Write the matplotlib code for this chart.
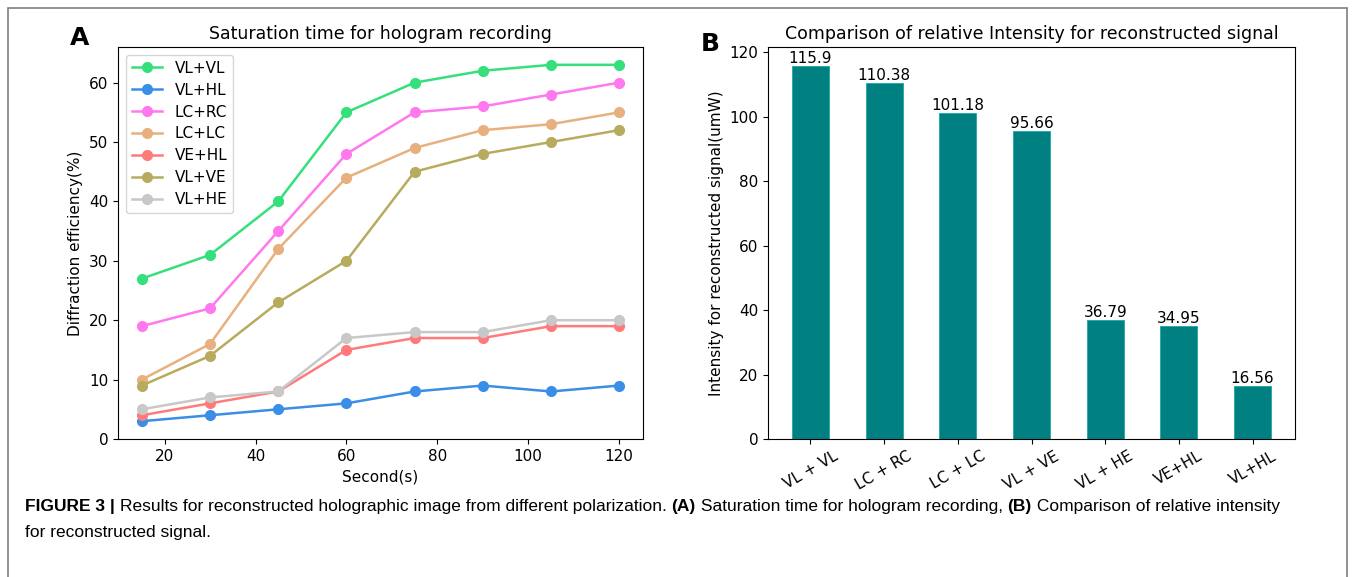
import numpy as np
import matplotlib
matplotlib.use('Agg')
import matplotlib.pyplot as plt
from matplotlib import font_manager
from matplotlib.patches import Rectangle

# Daten Teil A
seconds = [15, 30, 45, 60, 75, 90, 105, 120]
vl_vl = [27, 31, 40, 55, 60, 62, 63, 63]
vl_hl = [3, 4, 5, 6, 8, 9, 8, 9]
lc_rc = [19, 22, 35, 48, 55, 56, 58, 60]
lc_lc = [10, 16, 32, 44, 49, 52, 53, 55]
ve_hl = [4, 6, 8, 15, 17, 17, 19, 19]
vl_ve = [9, 14, 23, 30, 45, 48, 50, 52]
vl_he = [5, 7, 8, 17, 18, 18, 20, 20]
series_names = ["VL+VL", "VL+HL", "LC+RC", "LC+LC", "VE+HL", "VL+VE", "VL+HE"]
series = [vl_vl, vl_hl, lc_rc, lc_lc, ve_hl, vl_ve, vl_he]
colors = ["#35e07c", "#3a8ee8", "#ff78ee", "#e8b07e", "#ff7b7b", "#b7ab5e", "#c8c8c8"]

# Daten Teil B
bar_labels = ["VL + VL", "LC + RC", "LC + LC", "VL + VE", "VL + HE", "VE+HL", "VL+HL"]
bar_values = [115.9, 110.38, 101.18, 95.66, 36.79, 34.95, 16.56]

# Bildunterschrift (Text, fett?)
caption_line1 = [
    ("FIGURE 3 | ", True),
    ("Results for reconstructed holographic image from different polarization. ", False),
    ("(A)", True),
    (" Saturation time for hologram recording, ", False),
    ("(B)", True),
    (" Comparison of relative intensity", False),
]
caption_line2 = "for reconstructed signal."

W, H = 1355, 577
fig = plt.figure(figsize=(W / 100, H / 100), dpi=100)

# Rahmen
fig.add_artist(Rectangle((8 / W, -0.01), 1339 / W, 1 - 8 / H + 0.01,
                         transform=fig.transFigure, fill=False,
                         edgecolor="#7f7f7f", linewidth=1.2))

ax1 = fig.add_axes([118 / W, 1 - 439 / H, 525 / W, 392 / H])
ax2 = fig.add_axes([768 / W, 1 - 439 / H, 527 / W, 392 / H])

for name, vals, c in zip(series_names, series, colors):
    ax1.plot(seconds, vals, marker="o", color=c, label=name, linewidth=1.8, markersize=7)
ax1.set_title("Saturation time for hologram recording", fontsize=12.5)
ax1.set_xlabel("Second(s)", fontsize=11)
ax1.set_ylabel("Diffraction efficiency(%)", fontsize=11)
ax1.tick_params(labelsize=11)
ax1.legend(loc="upper left", fontsize=11, handlelength=2.0, labelspacing=0.45)

x = np.arange(len(bar_labels))
ax2.bar(x, bar_values, width=0.5, color="#008080", edgecolor="#1aa6a6", linewidth=0.6)
for xi, v in zip(x, bar_values):
    ax2.text(xi, v, f"{v:g}", ha="center", va="bottom", fontsize=11)
ax2.set_xticks(x)
ax2.set_xticklabels(bar_labels, rotation=30, fontsize=11)
ax2.set_title("Comparison of relative Intensity for reconstructed signal", fontsize=12.5)
ax2.set_ylabel("Intensity for reconstructed signal(umW)", fontsize=11)
ax2.tick_params(labelsize=11)

fig.text(80 / W, 1 - 38 / H, "A", fontsize=18, fontweight="bold", ha="center", va="center")
fig.text(710 / W, 1 - 44 / H, "B", fontsize=18, fontweight="bold", ha="center", va="center")

# Bildunterschrift: Schmalschrift falls vorhanden
names = {f.name for f in font_manager.fontManager.ttflist}
cap_font = "Liberation Sans Narrow" if "Liberation Sans Narrow" in names else "Liberation Sans"

renderer = fig.canvas.get_renderer()


def line_width(size):
    total = 0
    for s, b in caption_line1:
        t = fig.text(0, 0, s, fontsize=size, family=cap_font,
                     fontweight="bold" if b else "normal")
        total += t.get_window_extent(renderer).width
        t.remove()
    return total


cap_size = 12 * 1255 / line_width(12)
xpos = 25
for s, b in caption_line1:
    t = fig.text(xpos / W, 1 - 507 / H, s, fontsize=cap_size, family=cap_font,
                 fontweight="bold" if b else "normal", va="center")
    xpos += t.get_window_extent(renderer).width
fig.text(25 / W, 1 - 532 / H, caption_line2, fontsize=cap_size, family=cap_font, va="center")

fig.savefig("out.png", dpi=100)
